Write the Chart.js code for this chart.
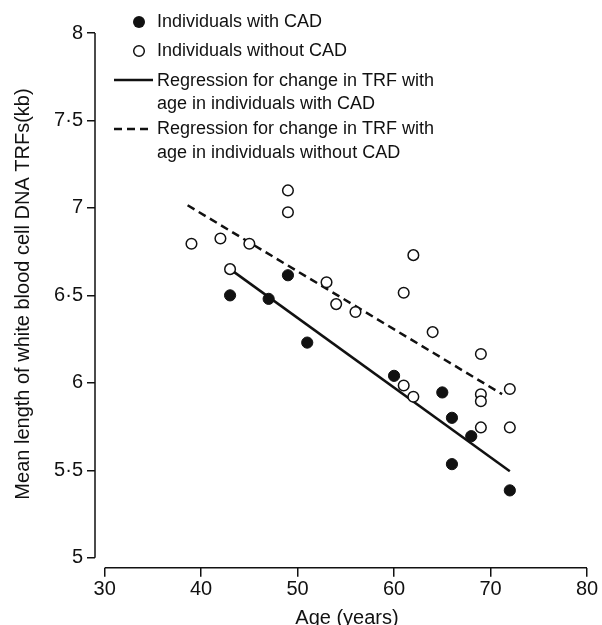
<!DOCTYPE html>
<html><head><meta charset="utf-8">
<script src="https://cdn.jsdelivr.net/npm/chart.js@4/dist/chart.umd.min.js"></script>
<style>html,body{margin:0;padding:0;background:#fff;overflow:hidden;}
#wrap{position:relative;width:602px;height:640px;}</style></head>
<body><div id="wrap"><canvas id="c"></canvas></div>
<script>
// ---- data ----
const cadAges = [43, 47, 49, 51, 60, 65, 66, 68, 66, 72];
const cadTRF  = [6.50, 6.48, 6.615, 6.23, 6.04, 5.945, 5.80, 5.695, 5.535, 5.385];
const nonCadAges = [39, 42, 45, 43, 49, 49, 53, 54, 56, 61, 62, 64, 69, 72, 61, 62, 69, 69, 69, 72];
const nonCadTRF  = [6.795, 6.825, 6.795, 6.65, 7.10, 6.975, 6.575, 6.45, 6.405, 6.515, 6.73, 6.29, 6.165, 5.965, 5.985, 5.92, 5.935, 5.895, 5.745, 5.745];
const cadFitAges = [43, 72];
const cadFitTRF  = [6.65, 5.495];
const nonCadFitAges = [38.6, 71.2];
const nonCadFitTRF  = [7.015, 5.935];
const xTicks = [30, 40, 50, 60, 70, 80];
const yTicks = [5, 5.5, 6, 6.5, 7, 7.5, 8];
const yTickLabels = ['5', '5·5', '6', '6·5', '7', '7·5', '8'];
const xTitle = 'Age (years)';
const yTitle = 'Mean length of white blood cell DNA TRFs(kb)';
const legendLabels = [
  ['Individuals with CAD'],
  ['Individuals without CAD'],
  ['Regression for change in TRF with', 'age in individuals with CAD'],
  ['Regression for change in TRF with', 'age in individuals without CAD']
];

const toXY = (xs, ys) => xs.map((x, i) => ({x: x, y: ys[i]}));
const FONT = '"Liberation Sans", Arial, sans-serif';
const INK = '#111';

const decor = {
  id: 'decor',
  afterDraw(chart) {
    const ctx = chart.ctx, xs = chart.scales.x, ys = chart.scales.y, ca = chart.chartArea;
    ctx.save();
    ctx.strokeStyle = INK; ctx.fillStyle = INK; ctx.lineWidth = 1.5;
    // axis lines (offset, as in the reference)
    ctx.beginPath();
    ctx.moveTo(ca.left, ys.getPixelForValue(yTicks[yTicks.length - 1]));
    ctx.lineTo(ca.left, ys.getPixelForValue(yTicks[0]));
    ctx.moveTo(xs.getPixelForValue(xTicks[0]), ca.bottom);
    ctx.lineTo(xs.getPixelForValue(xTicks[xTicks.length - 1]), ca.bottom);
    ctx.stroke();
    // axis titles
    ctx.font = '20px ' + FONT;
    ctx.textAlign = 'center'; ctx.textBaseline = 'middle';
    ctx.fillText(xTitle, 347, 618);
    ctx.save();
    ctx.translate(23, 294); ctx.rotate(-Math.PI / 2);
    ctx.fillText(yTitle, 0, 0);
    ctx.restore();
    // legend
    ctx.font = '18px ' + FONT;
    ctx.textAlign = 'left';
    const tx = 157;
    const rows = [[22], [51], [81, 104], [129.5, 153]];
    legendLabels.forEach((lines, i) => lines.forEach((t, j) => ctx.fillText(t, tx, rows[i][j])));
    ctx.beginPath(); ctx.arc(139, 22, 6, 0, Math.PI * 2); ctx.fill();
    ctx.beginPath(); ctx.arc(139, 51, 5.3, 0, Math.PI * 2);
    ctx.fillStyle = '#fff'; ctx.fill(); ctx.lineWidth = 1.5; ctx.stroke();
    ctx.lineWidth = 2.5;
    ctx.beginPath(); ctx.moveTo(114, 80); ctx.lineTo(153, 80); ctx.stroke();
    ctx.setLineDash([8, 5]);
    ctx.beginPath(); ctx.moveTo(114, 129); ctx.lineTo(148, 129); ctx.stroke();
    ctx.restore();
  }
};

new Chart(document.getElementById('c'), {
  type: 'scatter',
  data: {
    datasets: [
      {label: legendLabels[0][0], data: toXY(cadAges, cadTRF), backgroundColor: INK, borderColor: INK,
       borderWidth: 1, pointRadius: 5.6, pointHoverRadius: 5.6, order: 0},
      {label: legendLabels[1][0], data: toXY(nonCadAges, nonCadTRF), backgroundColor: '#fff', borderColor: INK,
       borderWidth: 1.5, pointRadius: 5.3, pointHoverRadius: 5.3, order: 0},
      {type: 'line', label: legendLabels[2].join(' '), data: toXY(cadFitAges, cadFitTRF), borderColor: INK,
       borderWidth: 2.5, pointRadius: 0, fill: false, order: 1},
      {type: 'line', label: legendLabels[3].join(' '), data: toXY(nonCadFitAges, nonCadFitTRF), borderColor: INK,
       borderWidth: 2.5, borderDash: [8, 5], pointRadius: 0, fill: false, order: 1}
    ]
  },
  options: {
    responsive: true, maintainAspectRatio: false, animation: false,
    layout: {padding: {top: 33, right: 15, left: 0, bottom: 0}},
    plugins: {legend: {display: false}, tooltip: {enabled: false}},
    scales: {
      x: {
        type: 'linear', min: 29, max: 80,
        afterBuildTicks: s => { s.ticks = xTicks.map(v => ({value: v})); },
        afterFit: s => { s.height = 72.3; },
        border: {display: false},
        grid: {drawOnChartArea: false, drawTicks: true, tickLength: 9, color: INK, lineWidth: 1.5},
        ticks: {color: INK, padding: 1, font: {family: FONT, size: 20}, callback: v => String(v)}
      },
      y: {
        type: 'linear', min: 4.943, max: 8,
        afterBuildTicks: s => { s.ticks = yTicks.map(v => ({value: v})); },
        afterFit: s => { s.width = 95; },
        border: {display: false},
        grid: {drawOnChartArea: false, drawTicks: true, tickLength: 8, color: INK, lineWidth: 1.5},
        ticks: {color: INK, padding: 4, font: {family: FONT, size: 20},
                callback: v => { const i = yTicks.indexOf(v); return i >= 0 ? yTickLabels[i] : ''; }}
      }
    }
  },
  plugins: [decor]
});
</script></body></html>
